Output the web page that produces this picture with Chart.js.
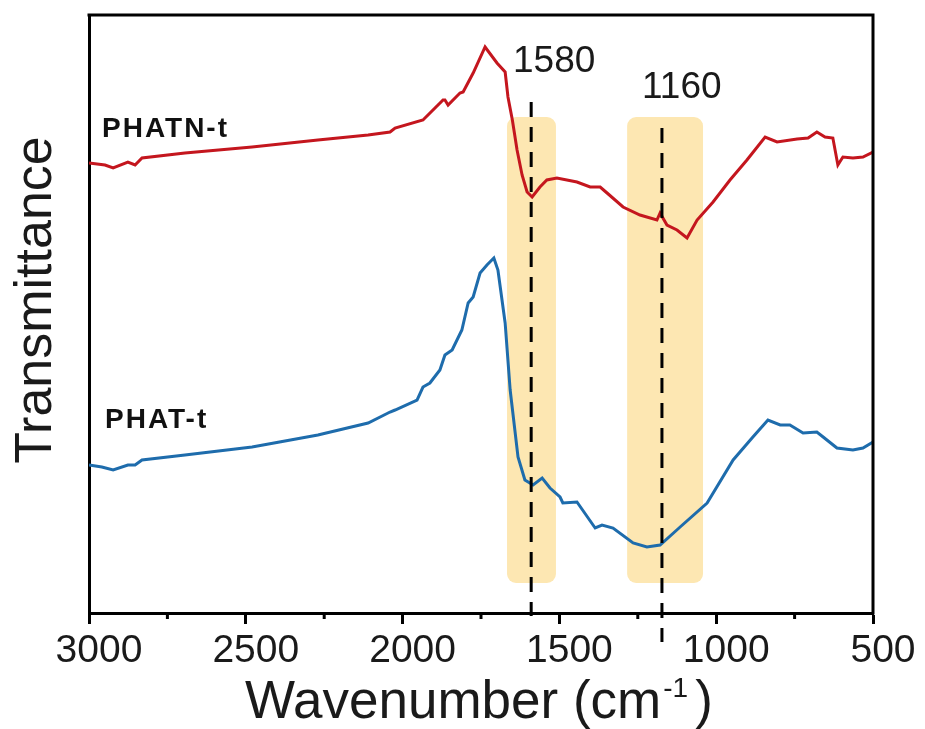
<!DOCTYPE html>
<html>
<head>
<meta charset="utf-8">
<script src="https://cdn.jsdelivr.net/npm/chart.js@4/dist/chart.umd.min.js"></script>
<style>
  html, body { margin: 0; padding: 0; background: #ffffff; }
  #wrap { width: 925px; height: 729px; position: relative; }
</style>
</head>
<body>
<div id="wrap"><canvas id="c" width="925" height="729"></canvas></div>
<script>
// ---- data ----
const redWavenumber = [3000,2949,2923,2876,2853,2831,2694,2480,2270,2110,2040,2024,1935,1871,1865,1855,1817,1807,1775,1737,1699,1673,1664,1650,1635,1619,1603,1587,1562,1540,1508,1444,1402,1370,1348,1297,1243,1189,1179,1157,1125,1093,1061,1010,956,902,844,806,742,707,679,653,628,612,596,564,532,500];
const redValues     = [450,448,445,451,448,455,460,466,473,478,481,485,493,513,513,508,520,521,540,566,550,541,516,493,463,438,421,416,426,433,435,431,426,426,420,406,398,393,400,388,383,375,393,411,433,453,476,471,474,475,481,476,475,448,456,455,456,461];

const blueWavenumber = [3000,2959,2923,2876,2853,2831,2694,2480,2270,2110,2040,2024,1954,1935,1913,1881,1865,1842,1811,1791,1775,1753,1731,1709,1696,1673,1657,1632,1610,1584,1555,1530,1498,1489,1444,1386,1364,1329,1265,1221,1179,1115,1029,946,883,835,796,765,723,679,659,615,564,532,500];
const blueValues     = [148,146,143,148,148,153,158,166,178,190,201,203,213,226,230,243,258,263,283,310,316,340,348,355,343,290,223,156,133,128,135,125,116,110,111,85,88,85,70,66,68,86,110,153,176,193,188,188,180,181,176,165,163,165,171];

const seriesNames = ['PHATN-t', 'PHAT-t'];
const xTickValues = [3000, 2500, 2000, 1500, 1000, 500];
const xMinorTicks = [2750, 2250, 1750, 1250, 750];
const markerPositions = [1590, 1173];
const markerLabels = ['1580', '1160'];
const bandStarts = [1667, 1284];
const bandEnds = [1511, 1042];
const bandLow = 30;
const bandHigh = 496;

const FONT = '"Liberation Sans", Arial, Helvetica, sans-serif';

function toPoints(xs, ys) { return xs.map((x, i) => ({ x: x, y: ys[i] })); }

const annotations = {
  id: 'annotations',
  beforeDatasetsDraw(chart) {
    const ctx = chart.ctx, xs = chart.scales.x, ys = chart.scales.y;
    ctx.save();
    ctx.fillStyle = 'rgb(253, 231, 178)';
    for (let i = 0; i < bandStarts.length; i++) {
      const x1 = xs.getPixelForValue(bandStarts[i]);
      const x2 = xs.getPixelForValue(bandEnds[i]);
      const y1 = ys.getPixelForValue(bandHigh);
      const y2 = ys.getPixelForValue(bandLow);
      ctx.beginPath();
      ctx.roundRect(Math.min(x1, x2), y1, Math.abs(x2 - x1), y2 - y1, 9);
      ctx.fill();
    }
    ctx.restore();
  },
  afterDatasetsDraw(chart) {
    const ctx = chart.ctx, xs = chart.scales.x, ys = chart.scales.y;
    const area = chart.chartArea;
    ctx.save();
    // dashed marker lines
    ctx.strokeStyle = '#000';
    ctx.lineWidth = 3;
    ctx.setLineDash([15, 10]);
    const tops = [102, 128];
    const bottoms = [616, 642];
    for (let i = 0; i < markerPositions.length; i++) {
      const px = xs.getPixelForValue(markerPositions[i]);
      ctx.beginPath();
      ctx.moveTo(px, tops[i]);
      ctx.lineTo(px, bottoms[i]);
      ctx.stroke();
    }
    ctx.setLineDash([]);
    // marker labels
    ctx.fillStyle = '#1a1a1a';
    ctx.font = '37px ' + FONT;
    ctx.textAlign = 'left';
    ctx.textBaseline = 'alphabetic';
    ctx.fillText(markerLabels[0], 513, 72);
    ctx.fillText(markerLabels[1], 642, 98);
    // series labels
    ctx.fillStyle = '#111';
    ctx.font = 'bold 28px ' + FONT;
    ctx.letterSpacing = '2px';
    ctx.fillText(seriesNames[0], 102, 137);
    ctx.fillText(seriesNames[1], 105, 428);
    ctx.letterSpacing = '0px';
    // top and right frame
    ctx.strokeStyle = '#000';
    ctx.lineWidth = 3;
    ctx.beginPath();
    ctx.moveTo(area.left - 1.5, area.top);
    ctx.lineTo(area.right, area.top);
    ctx.lineTo(area.right, area.bottom + 1.5);
    ctx.stroke();
    // minor ticks
    ctx.lineWidth = 3;
    for (const v of xMinorTicks) {
      const px = xs.getPixelForValue(v);
      ctx.beginPath();
      ctx.moveTo(px, area.bottom);
      ctx.lineTo(px, area.bottom + 6);
      ctx.stroke();
    }
    // axis titles
    ctx.fillStyle = '#1a1a1a';
    ctx.save();
    ctx.translate(51, 300);
    ctx.rotate(-Math.PI / 2);
    ctx.font = '52px ' + FONT;
    ctx.textAlign = 'center';
    ctx.fillText('Transmittance', 0, 0);
    ctx.restore();
    ctx.textAlign = 'left';
    ctx.font = '53px ' + FONT;
    const main = 'Wavenumber (cm';
    ctx.fillText(main, 245, 718);
    let xx = 245 + ctx.measureText(main).width + 2;
    ctx.font = '28px ' + FONT;
    ctx.fillText('-1', xx, 697);
    xx += ctx.measureText('-1').width + 7;
    ctx.font = '53px ' + FONT;
    ctx.fillText(')', xx, 718);
    ctx.restore();
  }
};

new Chart(document.getElementById('c'), {
  type: 'line',
  data: {
    datasets: [
      { label: seriesNames[0], data: toPoints(redWavenumber, redValues), borderColor: 'rgb(196, 22, 30)', borderWidth: 3, pointRadius: 0, tension: 0, fill: false },
      { label: seriesNames[1], data: toPoints(blueWavenumber, blueValues), borderColor: 'rgb(30, 108, 172)', borderWidth: 3, pointRadius: 0, tension: 0, fill: false }
    ]
  },
  options: {
    responsive: false,
    animation: false,
    devicePixelRatio: 1,
    layout: { padding: { top: 15, right: 52, left: 0, bottom: 0 } },
    plugins: { legend: { display: false }, tooltip: { enabled: false }, title: { display: false } },
    scales: {
      x: {
        type: 'linear',
        reverse: true,
        min: 500,
        max: 3000,
        afterBuildTicks: (scale) => { scale.ticks = xTickValues.map(v => ({ value: v })); },
        afterFit: (scale) => { scale.height = 116; },
        ticks: {
          color: '#1a1a1a',
          font: { family: FONT, size: 39 },
          padding: 4,
          labelOffset: 10,
          maxRotation: 0,
          autoSkip: false,
          callback: (v) => String(v)
        },
        grid: { drawOnChartArea: false, drawTicks: true, tickLength: 11, tickWidth: 3, tickColor: '#000' },
        border: { display: true, width: 3, color: '#000' }
      },
      y: {
        type: 'linear',
        min: 0,
        max: 598,
        afterFit: (scale) => { scale.width = 89; },
        ticks: { display: false },
        grid: { display: false },
        border: { display: true, width: 3, color: '#000' }
      }
    }
  },
  plugins: [annotations]
});
</script>
</body>
</html>
